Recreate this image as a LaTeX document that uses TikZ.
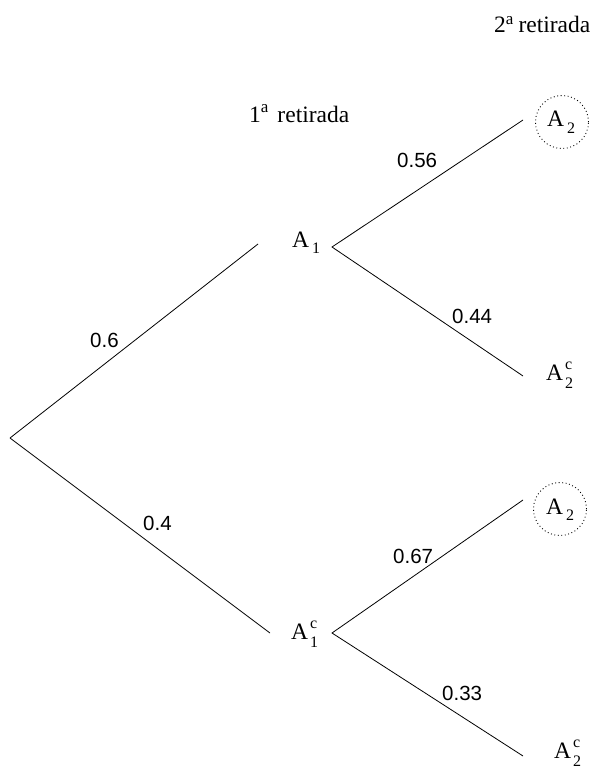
\documentclass[tikz,border=0pt]{standalone}
\usepackage{fontspec}
\setmainfont{Liberation Serif}
\newfontfamily\numfont{Liberation Sans}
\newcommand\subf{\fontsize{16}{16}\selectfont}
\newcommand\supf{\fontsize{17}{17}\selectfont}
\newcommand\Asb[1]{A\kern3pt\raisebox{-6pt}{\subf #1}}
\newcommand\Acsb[1]{A\kern2pt\rlap{\raisebox{11pt}{\subf c}}\raisebox{-8pt}{\subf #1}}
\begin{document}
\begin{tikzpicture}[x=1pt,y=-1pt,
  lbl/.style={font=\fontsize{23.5}{26}\selectfont,inner sep=0pt,anchor=base west},
  prob/.style={font=\numfont\fontsize{20.5}{23}\selectfont,inner sep=0pt,anchor=base west},
  circ/.style={circle,draw,line width=0.9pt,dash pattern=on 0.9pt off 2.6pt,minimum size=53pt,inner sep=0pt},
  br/.style={line width=0.8pt}]
\useasboundingbox (0,0) rectangle (605,781);
\coordinate (root) at (10,438);
\node[lbl] (A1) at (292,247) {\Asb{1}};
\node[lbl] (A1c) at (291,639) {\Acsb{1}};
\node[circ] (C1) at (562,122) {};
\node[lbl] (A2a) at (547,127) {\Asb{2}};
\node[lbl] (A2ca) at (546,380) {\Acsb{2}};
\node[circ] (C2) at (560,509) {};
\node[lbl] (A2b) at (546,514) {\Asb{2}};
\node[lbl] (A2cb) at (554,758) {\Acsb{2}};
\node[lbl] (t1) at (249,123) {1\raisebox{10pt}{\supf a}\hspace{9pt}retirada};
\node[lbl] (t2) at (494,33) {2\raisebox{8pt}{\supf a}\hspace{5pt}retirada};
\coordinate (a1l) at (258,244);
\coordinate (a1r) at (332,247);
\coordinate (a1cl) at (270,633);
\coordinate (a1cr) at (332,633);
\coordinate (e1) at (523,120);
\coordinate (e2) at (523,376);
\coordinate (e3) at (523,500);
\coordinate (e4) at (523,756);
\draw[br] (root) -- (a1l);
\draw[br] (root) -- (a1cl);
\draw[br] (e1) -- (a1r) -- (e2);
\draw[br] (e3) -- (a1cr) -- (e4);
\node[prob] (p1) at (90,347) {0.6};
\node[prob] (p2) at (143,530) {0.4};
\node[prob] (p3) at (397,167) {0.56};
\node[prob] (p4) at (452,323) {0.44};
\node[prob] (p5) at (393,563) {0.67};
\node[prob] (p6) at (442,700) {0.33};
\end{tikzpicture}
\end{document}
